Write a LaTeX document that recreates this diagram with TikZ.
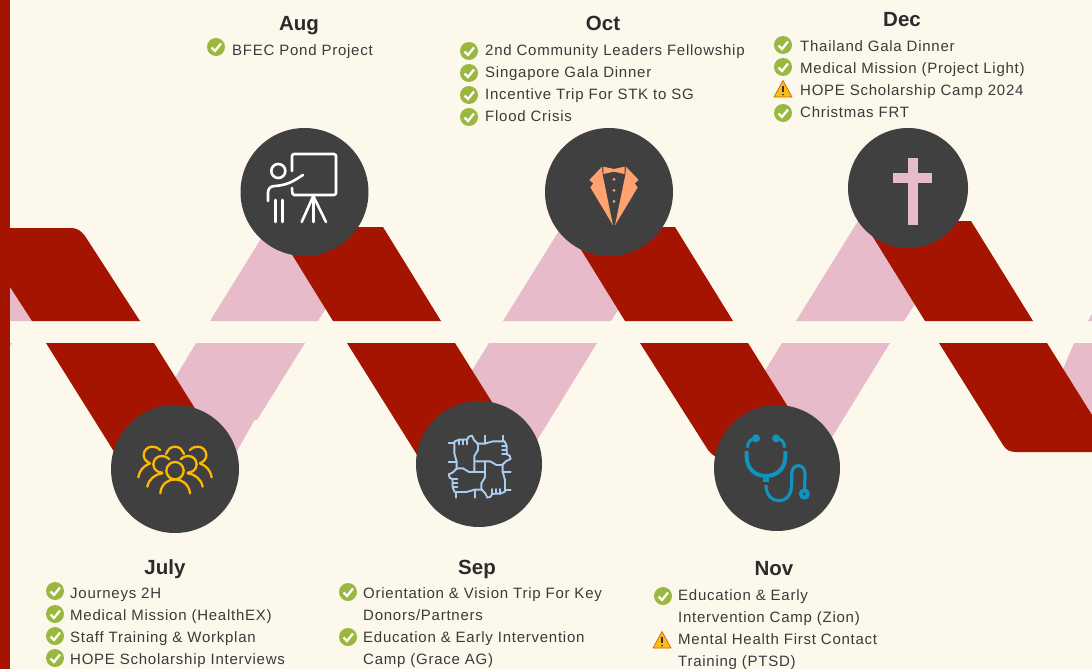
\documentclass[tikz,border=0pt]{standalone}
\usepackage{fontspec}
\setmainfont[LetterSpace=5]{Liberation Sans}
\newfontfamily\headfont{Liberation Sans}
\definecolor{bgc}{HTML}{FCF8EC}
\definecolor{redc}{HTML}{A51400}
\definecolor{pinkc}{HTML}{E8BBCB}
\definecolor{darkc}{HTML}{404040}
\definecolor{chkc}{HTML}{9AB73F}
\definecolor{txtc}{HTML}{3A3A3A}
\definecolor{headc}{HTML}{2B2B2B}
\definecolor{goldc}{HTML}{FFB800}
\definecolor{orgc}{HTML}{FFA270}
\definecolor{bluec}{HTML}{A9CDEE}
\definecolor{tealc}{HTML}{0F93BF}
\definecolor{warnc}{HTML}{FBBC1A}
\tikzset{
  itemtext/.style={anchor=base west,inner sep=0pt,text=txtc,font=\fontsize{15}{18}\selectfont},
  headtext/.style={anchor=base,inner sep=0pt,text=headc,font=\headfont\fontsize{20.5}{24}\selectfont\bfseries},
  redband/.style={fill=redc},
  pinkband/.style={fill=pinkc},
  disc/.style={fill=darkc},
  iconw/.style={draw=white,line width=2.6pt,line cap=round,line join=round},
  icong/.style={draw=goldc,line width=2.3pt,line cap=round},
  iconb/.style={draw=bluec,line width=1.9pt,line cap=round,line join=round},
  icont/.style={draw=tealc,line width=4pt}
}
\newcommand{\chk}[2]{\fill[chkc] (#1,#2) circle[radius=9];
  \draw[white,line width=2.3pt] (#1-4.5,#2+0.5)--(#1-1,#2+4)--(#1+5,#2-3.5);}
\newcommand{\warn}[2]{\fill[warnc,draw=orange!80!black,line width=0.7pt,line join=round] (#1,#2-8.5)--(#1+9,#2+8)--(#1-9,#2+8)--cycle;
  \draw[black!80,line width=1.4pt] (#1,#2-3)--(#1,#2+3);
  \fill[black!80] (#1,#2+5.6) circle[radius=0.9];}
\begin{document}
\begin{tikzpicture}[x=1pt,y=-1pt]
\useasboundingbox (0,0) rectangle (1092,669);
\fill[bgc] (0,0) rectangle (1092,669);
% pink bands, upper
\fill[pinkband] (10,287)--(32,321)--(10,321)--cycle;
\fill[pinkband] (210,321)--(318,321)--(345,278)--(305,200)--(285,200)--cycle;
\fill[pinkband] (503,321)--(611,321)--(638,278)--(609,200)--(578,200)--cycle;
\fill[pinkband] (796,321)--(904,321)--(940,265)--(908,200)--(871,200)--cycle;
\fill[pinkband] (1088,321)--(1092,321)--(1092,314)--cycle;
% pink bands, lower
\fill[pinkband] (10,343)--(12,343)--(10,346)--cycle;
\fill[pinkband] (196,343)--(305,343)--(257,420)--(254.5,420)--(232,460)--(155,460)--(160,403)--cycle;
\fill[pinkband] (489,343)--(597,343)--(525,460)--(459,460)--(452,403)--cycle;
\fill[pinkband] (782,343)--(890,343)--(818,460)--(757,460)--(745,403)--cycle;
\fill[pinkband] (1074,343)--(1092,343)--(1092,420)--(1050,400)--cycle;
% red bands, upper
\fill[redband] (10,228)--(70,228) .. controls (78,228) and (81,231) .. (85,236)--(140,321)--(32,321)--(10,287)--cycle;
\fill[redband] (333,321)--(441,321)--(383,227)--(275,227)--cycle;
\fill[redband] (625,321)--(733,321)--(675,227)--(567,227)--cycle;
\fill[redband] (925,321)--(1033,321)--(971,221)--(863,221)--cycle;
% red bands, lower
\fill[redband] (46,343)--(154,343)--(226,458)--(118,458)--cycle;
\fill[redband] (347,343)--(455,343)--(527,458)--(419,458)--cycle;
\fill[redband] (640,343)--(748,343)--(820,458)--(722,458) .. controls (716,458) and (712,455) .. (708,450)--cycle;
\fill[redband] (939,343)--(1047,343)--(1092,415)--(1092,452)--(1016,452) .. controls (1010,452) and (1006,450) .. (1003,445)--cycle;
% left bar
\fill[redc] (0,0) rectangle (10,669);
% discs
\fill[disc] (304.5,192) circle[radius=64];
\fill[disc] (609,192) circle[radius=64];
\fill[disc] (908,188) circle[radius=60];
\fill[disc] (175,469) circle[radius=64];
\fill[disc] (479,464) circle[radius=63];
\fill[disc] (777,468) circle[radius=63];
% teacher icon
\draw[iconw] (292,171)--(292,156) .. controls (292,155) and (293,154) .. (294,154)--(334,154) .. controls (335,154) and (336,155) .. (336,156)--(336,193) .. controls (336,194) and (335,195) .. (334,195)--(294,195) .. controls (293,195) and (292,194) .. (292,188);
\draw[iconw] (278.3,171) circle[radius=7];
\draw[iconw] (303,175) .. controls (296,179) and (290,185) .. (275,186) .. controls (270,186) and (268,189) .. (268,193)--(268,201);
\draw[iconw] (275.3,200)--(275.3,222);
\draw[iconw] (282.3,200)--(282.3,222);
\draw[iconw] (313.3,196)--(313.3,222);
\draw[iconw] (313.3,196)--(301.7,222);
\draw[iconw] (313.3,196)--(326,222);
% tuxedo icon
\begin{scope}[shift={(530,120)},scale=1/3]
\fill[orgc] (216,140)--(178,180)--(190,190)--(181,202)--(249,316)--(218,165)--cycle;
\fill[orgc] (288,140)--(326,180)--(314,190)--(323,202)--(255,316)--(286,165)--cycle;
\fill[orgc] (220,140)--(252,147)--(284,140)--(284,162)--(252,155)--(220,162)--cycle;
\fill[orgc] (252,178) circle[radius=4.5];
\fill[orgc] (252,211) circle[radius=4.5];
\fill[orgc] (252,244) circle[radius=4.5];
\end{scope}
% cross icon
\fill[pinkc] (908,158) rectangle (918,225);
\fill[pinkc] (893,173) rectangle (932,183);
% people icon
\begin{scope}[shift={(100,400)},scale=1/3]
\draw[icong] (225,212) circle[radius=26];
\draw[icong] (181,280) .. controls (183,252) and (205,238) .. (225,238) .. controls (245,238) and (267,252) .. (270,280);
\draw[icong] (198,162) .. controls (205,145) and (215,140) .. (225,140) .. controls (235,140) and (245,145) .. (252,162);
\foreach \m in {0,1}{
\begin{scope}[shift={(450*\m,0)},xscale={1-2*\m}]
\draw[icong] (208,178) .. controls (200,170) and (192,168) .. (185,168) .. controls (170,168) and (160,180) .. (160,193) .. controls (160,207) and (172,218) .. (187,218);
\draw[icong] (142,260) .. controls (146,238) and (165,222) .. (187,220);
\draw[icong] (180,150) .. controls (172,142) and (165,140) .. (156,140) .. controls (142,140) and (131,152) .. (131,165) .. controls (131,176) and (138,185) .. (150,190);
\draw[icong] (115,232) .. controls (118,212) and (130,198) .. (150,190);
\end{scope}}
\end{scope}
% hands icon
\begin{scope}[shift={(410,400)},scale=1/3]
\foreach \a in {0,90,180,270}{
\begin{scope}[rotate around={\a:(209,200)}]
\draw[iconb] (140,208)--(140,185)--(133,160)--(133,125)--(147,119)--(160,119)--(172,118)--(176,110)--(186,107)--(192,120)--(204,132)--(204,150)--(193,168)--(193,212);
\draw[iconb] (147,119)--(147,133);
\draw[iconb] (160,119)--(160,133);
\draw[iconb] (172,118)--(172,133);
\draw[iconb] (116,130)--(133,130);
\draw[iconb] (116,185)--(140,185);
\end{scope}}
\end{scope}
% stethoscope icon
\begin{scope}[shift={(710,400)},scale=1/3]
\fill[tealc] (138,115) circle[radius=12];
\fill[tealc] (198,115) circle[radius=12];
\draw[tealc,line width=3pt] (138,115) .. controls (122,118) and (113,122) .. (113,143);
\draw[tealc,line width=3pt] (198,115) .. controls (214,118) and (223,122) .. (223,143);
\draw[icont] (110,153)--(110,170) .. controls (110,205) and (135,228) .. (168,228) .. controls (201,228) and (226,205) .. (226,170)--(226,153);
\draw[tealc,line width=6pt] (168,225)--(168,247);
\draw[tealc,line width=3.2pt] (168,255) .. controls (168,285) and (185,302) .. (205,302) .. controls (230,302) and (245,285) .. (245,250) --(245,222) .. controls (245,205) and (255,197) .. (265,197) .. controls (277,197) and (285,207) .. (285,222)--(284,270);
\fill[tealc] (283,282) circle[radius=17];
\fill[darkc] (283,282) circle[radius=4.5];
\end{scope}
% headings
\node[headtext] (haug) at (299,31) {Aug};
\node[headtext] (hoct) at (603,31) {Oct};
\node[headtext] (hdec) at (902,27) {Dec};
\node[headtext] (hjul) at (165,574) {July};
\node[headtext] (hsep) at (477,574) {Sep};
\node[headtext] (hnov) at (774,575) {Nov};
% Aug
\chk{216}{47}
\node[itemtext] (a1) at (232,55.7) {BFEC Pond Project};
% Oct
\chk{469}{51}\chk{469}{73}\chk{469}{95}\chk{469}{117}
\node[itemtext] (o1) at (485,55.7) {2nd Community Leaders Fellowship};
\node[itemtext] (o2) at (485,77.7) {Singapore Gala Dinner};
\node[itemtext] (o3) at (485,99.7) {Incentive Trip For STK to SG};
\node[itemtext] (o4) at (485,121.3) {Flood Crisis};
% Dec
\chk{783}{45}\chk{783}{67}\warn{783}{89}\chk{783}{113}
\node[itemtext] (d1) at (800,51.7) {Thailand Gala Dinner};
\node[itemtext] (d2) at (800,73.7) {Medical Mission (Project Light)};
\node[itemtext] (d3) at (800,95.7) {HOPE Scholarship Camp 2024};
\node[itemtext] (d4) at (800,117.3) {Christmas FRT};
% July
\chk{55}{591}\chk{55}{614}\chk{55}{636}\chk{55}{658}
\node[itemtext] (j1) at (70,598) {Journeys 2H};
\node[itemtext] (j2) at (70,620) {Medical Mission (HealthEX)};
\node[itemtext] (j3) at (70,642) {Staff Training \& Workplan};
\node[itemtext] (j4) at (70,664) {HOPE Scholarship Interviews};
% Sep
\chk{348}{592}\chk{348}{637}
\node[itemtext] (s1) at (363,598) {Orientation \& Vision Trip For Key};
\node[itemtext] (s2) at (363,620) {Donors/Partners};
\node[itemtext] (s3) at (363,642) {Education \& Early Intervention};
\node[itemtext] (s4) at (363,664) {Camp (Grace AG)};
% Nov
\chk{663}{596}\warn{662}{640}
\node[itemtext] (n1) at (678,600) {Education \& Early};
\node[itemtext] (n2) at (678,622) {Intervention Camp (Zion)};
\node[itemtext] (n3) at (678,644) {Mental Health First Contact};
\node[itemtext] (n4) at (678,666) {Training (PTSD)};
\end{tikzpicture}
\end{document}
